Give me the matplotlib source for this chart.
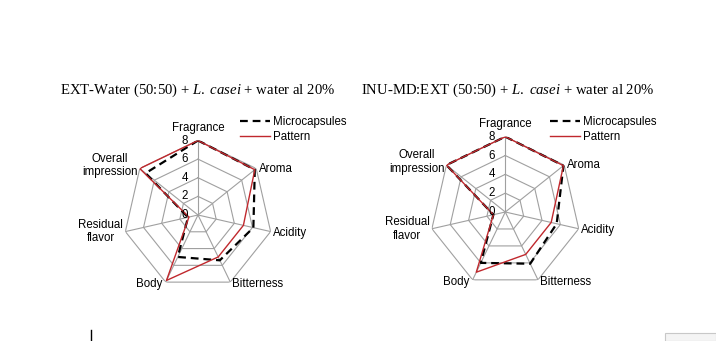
import numpy as np
import matplotlib
matplotlib.use("Agg")
import matplotlib.pyplot as plt
from matplotlib.lines import Line2D

plt.rcParams["font.family"] = ["Liberation Sans", "DejaVu Sans"]
plt.rcParams["mathtext.fontset"] = "custom"
plt.rcParams["mathtext.rm"] = "Liberation Serif"
plt.rcParams["mathtext.it"] = "Liberation Serif:italic"

# ── Data ────────────────────────────────────────────────────────────────────
attributes = ["Fragrance", "Aroma", "Acidity", "Bitterness", "Body",
              "Residual\nflavor", "Overall\nimpression"]
ring_values = [2, 4, 6, 8]
tick_values = [0, 2, 4, 6, 8]

ext_micro   = [8.0, 7.8, 6.1, 5.4, 5.0, 1.1, 7.2]
ext_pattern = [8.0, 7.8, 5.0, 5.0, 7.8, 1.0, 8.0]
inu_micro   = [8.0, 7.9, 5.6, 6.1, 6.0, 1.3, 8.0]
inu_pattern = [8.0, 7.9, 5.0, 5.0, 7.1, 1.3, 8.0]

title_ext = r"EXT-Water (50:50) + $\mathit{L.\ casei}$ + water al 20%"
title_inu = r"INU-MD:EXT (50:50) + $\mathit{L.\ casei}$ + water al 20%"

# ── Style ───────────────────────────────────────────────────────────────────
GRID_COLOR = "#a0a0a0"
MICRO_COLOR = "black"
PATTERN_COLOR = "#c0282d"
FS = 8.3

# label offsets in pixels (dx, dy) and alignment per attribute
label_style = [
    ((0, 7), "center", "bottom"),
    ((3, 0), "left", "center"),
    ((2, -1), "left", "center"),
    ((2, -2), "left", "center"),
    ((-3, -2), "right", "center"),
    ((-2, 0), "right", "center"),
    ((-2, 3), "right", "center"),
]

W, H = 716, 341
fig = plt.figure(figsize=(W / 100, H / 100), dpi=100, facecolor="white")

n = len(attributes)
theta = np.linspace(0, 2 * np.pi, n, endpoint=False)
theta_c = np.append(theta, theta[0])


def radar(cx, cy, rad, micro, pattern, title, title_x, legend_x):
    ax = fig.add_axes([(cx - rad) / W, (H - cy - rad) / H, 2 * rad / W, 2 * rad / H],
                      projection="polar")
    ax.set_theta_offset(np.pi / 2)
    ax.set_theta_direction(-1)
    ax.set_ylim(0, 8)
    ax.grid(False)
    ax.set_xticks([])
    ax.set_yticks([])
    ax.spines["polar"].set_visible(False)
    ax.patch.set_alpha(0)

    # polygon rings and spokes
    for r in ring_values:
        ax.plot(theta_c, [r] * (n + 1), color=GRID_COLOR, lw=0.8, zorder=1)
    for t in theta:
        ax.plot([t, t], [0, 8], color=GRID_COLOR, lw=0.8, zorder=1)

    # series
    m = np.append(micro, micro[0])
    p = np.append(pattern, pattern[0])
    ax.plot(theta_c, m, color=MICRO_COLOR, lw=1.6, dashes=(3.5, 2.2), zorder=3)
    ax.plot(theta_c, p, color=PATTERN_COLOR, lw=1.0, zorder=4)

    # scale numbers along the first spoke
    for v in tick_values:
        ax.annotate(str(v), xy=(0, v), xytext=(-10, 0), textcoords="offset pixels",
                    ha="right", va="center", fontsize=FS, zorder=5)

    # attribute labels
    for t, name, (off, ha, va) in zip(theta, attributes, label_style):
        ax.annotate(name, xy=(t, 8), xytext=off, textcoords="offset pixels",
                    ha=ha, va=va, fontsize=FS, multialignment="center",
                    annotation_clip=False)

    fig.text(title_x / W, 1 - 90 / H, title, ha="center", va="center",
             fontsize=10.6, family="Liberation Serif")

    handles = [Line2D([], [], color=MICRO_COLOR, lw=1.6, dashes=(3.5, 2.2)),
               Line2D([], [], color=PATTERN_COLOR, lw=1.0)]
    fig.legend(handles, ["Microcapsules", "Pattern"], loc="upper left",
               bbox_to_anchor=(legend_x / W, 1 - 116 / H), frameon=False,
               fontsize=FS, handlelength=2.6, handletextpad=0.3,
               labelspacing=0.25, borderpad=0, borderaxespad=0)


radar(198, 215, 74.5, ext_micro, ext_pattern, title_ext, 198, 240)
radar(505.3, 212, 75.3, inu_micro, inu_pattern, title_inu, 508, 550)

# text cursor and paste-options box from the page
fig.add_artist(Line2D([90.5 / W, 90.5 / W], [1 - 330 / H, 1 - 341 / H],
                      color="black", lw=1.0))
fig.add_artist(plt.Rectangle((665 / W, 0), 51 / W, 8 / H, transform=fig.transFigure,
                             facecolor="#f4f4f4", edgecolor="#c8c8c8", lw=0.8))

fig.savefig("out.png", dpi=100, facecolor="white")
